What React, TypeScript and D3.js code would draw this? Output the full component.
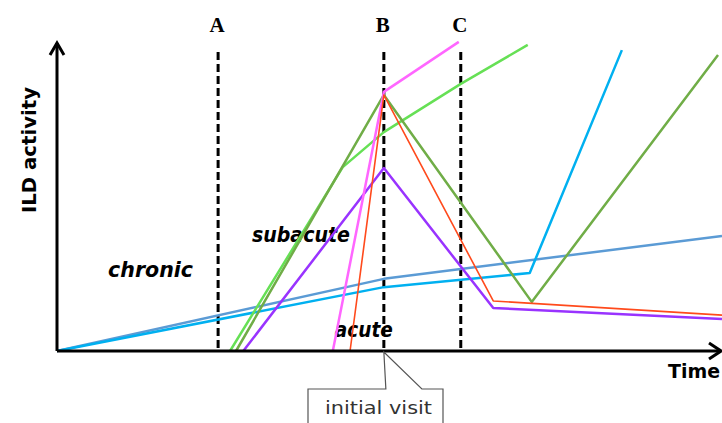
import React, { useEffect, useRef } from "react";
import * as d3 from "d3";

type Pt = [number, number];
type Series = { name: string; color: string; width: number; points: Pt[] };

// time (0-100) vs ILD activity (0-100)
const chronicBlue: Pt[] = [[0, 0], [49.3, 23.5], [100.3, 37.5]];
const chronicCyan: Pt[] = [[0, 0], [49.3, 20.8], [71.3, 25.4], [85.2, 98.0]];
const subacuteLight: Pt[] = [[26.1, 0], [43.1, 59.9], [49.3, 71.3], [60.9, 87.0], [71.0, 99.7]];
const subacuteOlive: Pt[] = [[27.0, 0], [49.3, 83.4], [71.6, 16.0], [99.7, 96.4]];
const subacutePurple: Pt[] = [[28.1, 0], [49.3, 59.6], [65.8, 14.0], [100.3, 10.4]];
const acutePink: Pt[] = [[41.6, 0], [49.3, 84.4], [60.6, 100.7]];
const acuteRed: Pt[] = [[44.2, 0], [49.3, 83.4], [65.8, 16.3], [100.3, 11.7]];

const series: Series[] = [
  { name: "chronic-blue", color: "#5b9bd5", width: 2.5, points: chronicBlue },
  { name: "chronic-cyan", color: "#00b0f0", width: 2.5, points: chronicCyan },
  { name: "subacute-light", color: "#66e055", width: 2.5, points: subacuteLight },
  { name: "subacute-olive", color: "#70ad47", width: 2.5, points: subacuteOlive },
  { name: "subacute-purple", color: "#9933ff", width: 2.5, points: subacutePurple },
  { name: "acute-pink", color: "#ff66ff", width: 2.5, points: acutePink },
  { name: "acute-red", color: "#ff4a1c", width: 1.6, points: acuteRed },
];

const markerNames = ["A", "B", "C"];
const markerTimes = [24.3, 49.3, 60.9];

const phaseLabels = ["chronic", "subacute", "acute"];
const phasePos: Pt[] = [[7.7, 24.1], [29.4, 35.5], [41.9, 4.6]];
const phaseWidths = [85, 98, 58];

export default function App() {
  const svgRef = useRef<SVGSVGElement | null>(null);

  useEffect(() => {
    const width = 722;
    const height = 423;
    const svg = d3.select(svgRef.current);
    svg.selectAll("*").remove();
    svg.attr("width", width).attr("height", height);

    const x = d3.scaleLinear().domain([0, 100]).range([57, 720]);
    const y = d3.scaleLinear().domain([0, 100]).range([351, 44]);

    const line = d3
      .line<Pt>()
      .x((d) => x(d[0]))
      .y((d) => y(d[1]));

    // vertical dashed markers
    markerTimes.forEach((t, i) => {
      svg
        .append("line")
        .attr("x1", x(t))
        .attr("x2", x(t))
        .attr("y1", 52)
        .attr("y2", 351)
        .attr("stroke", "#000")
        .attr("stroke-width", 3)
        .attr("stroke-dasharray", "8,4");
      svg
        .append("text")
        .attr("x", x(t) - 1)
        .attr("y", 32)
        .attr("text-anchor", "middle")
        .attr("font-family", "Liberation Serif")
        .attr("font-weight", "bold")
        .attr("font-size", 21)
        .text(markerNames[i]);
    });

    // phase labels
    phaseLabels.forEach((lab, i) => {
      svg
        .append("text")
        .attr("x", x(phasePos[i][0]))
        .attr("y", y(phasePos[i][1]))
        .attr("font-family", "DejaVu Sans")
        .attr("font-weight", "bold")
        .attr("font-style", "italic")
        .attr("font-size", 22)
        .attr("textLength", phaseWidths[i])
        .attr("lengthAdjust", "spacingAndGlyphs")
        .text(lab);
    });

    // colored curves
    series.forEach((s) => {
      svg
        .append("path")
        .attr("d", line(s.points))
        .attr("fill", "none")
        .attr("stroke", s.color)
        .attr("stroke-width", s.width)
        .attr("stroke-linejoin", "round");
    });

    // axes with open arrows
    const axis = svg.append("g").attr("stroke", "#000").attr("stroke-width", 3).attr("fill", "none");
    axis.append("path").attr("d", `M${x(0)},${y(0)} L${x(0)},43 M${x(0)},${y(0)} L721,${y(0)}`);
    axis.append("path").attr("d", `M${x(0) - 7},55 L${x(0)},43 L${x(0) + 7},55`);
    axis.append("path").attr("d", `M709,${y(0) - 8} L721,${y(0)} L709,${y(0) + 8}`);

    svg
      .append("text")
      .attr("transform", `translate(36,150) rotate(-90)`)
      .attr("text-anchor", "middle")
      .attr("font-family", "DejaVu Sans")
      .attr("font-weight", "bold")
      .attr("font-size", 19)
      .attr("textLength", 126)
      .attr("lengthAdjust", "spacingAndGlyphs")
      .text("ILD activity");

    svg
      .append("text")
      .attr("x", 668)
      .attr("y", 378)
      .attr("font-family", "DejaVu Sans")
      .attr("font-weight", "bold")
      .attr("font-size", 20)
      .attr("textLength", 52)
      .attr("lengthAdjust", "spacingAndGlyphs")
      .text("Time");

    // callout for initial visit
    const bx = x(markerTimes[1]);
    svg
      .append("path")
      .attr(
        "d",
        `M308,430 L308,389 L${bx + 2},389 L${bx},${y(0) + 1} L${bx + 38},389 L443,389 L443,430`
      )
      .attr("fill", "#fff")
      .attr("stroke", "#555")
      .attr("stroke-width", 1.2);
    svg
      .append("text")
      .attr("x", 325)
      .attr("y", 414)
      .attr("font-family", "DejaVu Sans")
      .attr("font-size", 18)
      .attr("fill", "#333")
      .attr("textLength", 107)
      .attr("lengthAdjust", "spacingAndGlyphs")
      .text("initial visit");
  }, []);

  return (
    <div style={{ position: "absolute", left: 0, top: 0, background: "#fff" }}>
      <svg ref={svgRef} />
    </div>
  );
}
